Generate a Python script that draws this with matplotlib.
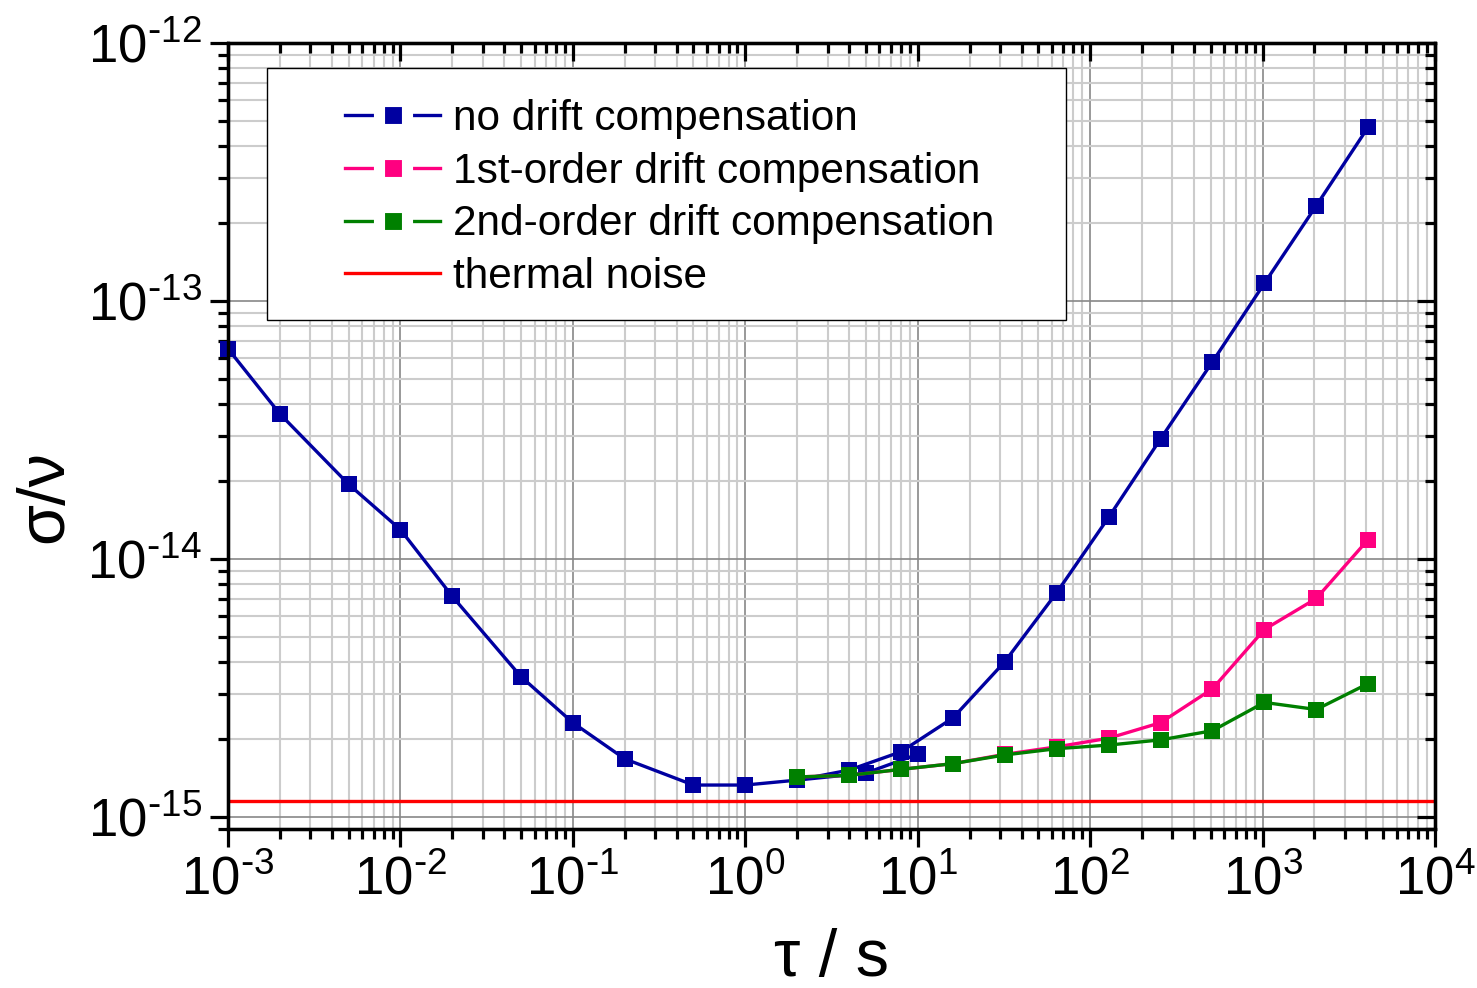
import numpy as np
import matplotlib.pyplot as plt
from matplotlib.lines import Line2D
from matplotlib.patches import Rectangle
from matplotlib.ticker import LogLocator, NullFormatter, FuncFormatter

plt.rcParams['font.family'] = ['Liberation Sans', 'DejaVu Sans']
plt.rcParams['mathtext.default'] = 'regular'
plt.rcParams['axes.unicode_minus'] = False

# no drift compensation, 1-2-5 steps
tau_a = [1e-3, 2e-3, 5e-3, 1e-2, 2e-2, 5e-2, 0.1, 0.2, 0.5, 1, 2, 5, 10]
sig_a = [6.53e-14, 3.65e-14, 1.95e-14, 1.30e-14, 7.16e-15, 3.50e-15,
         2.32e-15, 1.68e-15, 1.33e-15, 1.33e-15, 1.39e-15, 1.48e-15, 1.75e-15]

# powers of two
tau_b = [2, 4, 8, 16, 32, 64, 128, 256, 512, 1024, 2048, 4096]
sig_none = [1.39e-15, 1.52e-15, 1.79e-15, 2.42e-15, 4.0e-15, 7.41e-15,
            1.45e-14, 2.92e-14, 5.81e-14, 1.17e-13, 2.34e-13, 4.72e-13]
sig_1st = [1.43e-15, 1.45e-15, 1.53e-15, 1.61e-15, 1.75e-15, 1.87e-15,
           2.02e-15, 2.32e-15, 3.14e-15, 5.33e-15, 7.03e-15, 1.19e-14]
sig_2nd = [1.43e-15, 1.45e-15, 1.53e-15, 1.61e-15, 1.74e-15, 1.84e-15,
           1.90e-15, 1.99e-15, 2.16e-15, 2.78e-15, 2.61e-15, 3.29e-15]

thermal = 1.15e-15

labels = ["no drift compensation", "1st-order drift compensation",
          "2nd-order drift compensation", "thermal noise"]
colors = ["#0000A0", "#FF0080", "#008000", "#FF0000"]


def pow10(v, pos):
    e = int(round(np.log10(v)))
    if e < 0:
        return r"$\mathdefault{10^{\text{-}%d}}$" % (-e)
    return r"$\mathdefault{10^{%d}}$" % e


fig = plt.figure(figsize=(14.77, 9.88), dpi=100)
ax = fig.add_axes([228/1477, 1-829/988, (1435-228)/1477, (829-43)/988])

ax.set_xscale('log')
ax.set_yscale('log')
ax.set_xlim(1e-3, 1e4)
ax.set_ylim(10**(-15 - 12/258), 1e-12)

mk = dict(marker='s', markersize=12, markeredgewidth=0, lw=2.4, clip_on=False)
ax.plot(tau_a, sig_a, color=colors[0], zorder=3, **mk)
ax.plot(tau_b, sig_none, color=colors[0], zorder=3, **mk)
ax.plot(tau_b, sig_1st, color=colors[1], zorder=3, **mk)
ax.plot(tau_b, sig_2nd, color=colors[2], zorder=3, **mk)
ax.axhline(thermal, color=colors[3], lw=2.4, zorder=2)

for axis in (ax.xaxis, ax.yaxis):
    axis.set_major_locator(LogLocator(base=10, numticks=20))
    axis.set_minor_locator(LogLocator(base=10, subs=np.arange(2, 10), numticks=20))
    axis.set_major_formatter(FuncFormatter(pow10))
    axis.set_minor_formatter(NullFormatter())

ax.grid(which='major', color='#888888', lw=1.2, zorder=0)
ax.grid(which='minor', color='#cccccc', lw=1.5, zorder=0)
ax.set_axisbelow(True)

for s in ax.spines.values():
    s.set_linewidth(2.3)

ax.tick_params(which='major', direction='out', length=13, width=2.3,
               labelsize=38, pad=6)
ax.tick_params(which='minor', direction='out', length=7, width=2.3)

# inward ticks on top and right
axr = ax.twinx()
axr.set_yscale('log')
axr.set_ylim(ax.get_ylim())
axt = ax.twiny()
axt.set_xscale('log')
axt.set_xlim(ax.get_xlim())
for a, axis in ((axr, axr.yaxis), (axt, axt.xaxis)):
    axis.set_major_locator(LogLocator(base=10, numticks=20))
    axis.set_minor_locator(LogLocator(base=10, subs=np.arange(2, 10), numticks=20))
    axis.set_major_formatter(NullFormatter())
    axis.set_minor_formatter(NullFormatter())
    a.tick_params(which='major', direction='in', length=13, width=2.3)
    a.tick_params(which='minor', direction='in', length=7, width=2.3)
    for s in a.spines.values():
        s.set_linewidth(2.3)

ax.set_xlabel("τ / s", fontsize=48, labelpad=16)
fig.text(45/1477, 1-497/988, "σ/ν", fontsize=48, rotation=90,
         ha='center', va='center')

# legend box
ax.add_patch(Rectangle(((267-228)/1207, (829-320)/786), (1066-267)/1207,
                       (320-68)/786, transform=ax.transAxes, facecolor='white',
                       edgecolor='black', lw=1.0, zorder=4, clip_on=False))
handles = []
for c in colors[:3]:
    handles.append(Line2D([], [], color=c, lw=2.4, marker='s', markersize=20,
                          markerfacecolor=c, markeredgecolor='white',
                          markeredgewidth=8))
handles.append(Line2D([], [], color=colors[3], lw=2.4))
leg = ax.legend(handles, labels, loc='upper left',
                bbox_to_anchor=((345-228)/1207, (829-99)/786),
                bbox_transform=ax.transAxes, frameon=False, fontsize=30.5,
                borderpad=0, borderaxespad=0, handlelength=2.25,
                handletextpad=0.3, labelspacing=0.3)
leg.set_zorder(5)

fig.savefig("out.png", dpi=100)
